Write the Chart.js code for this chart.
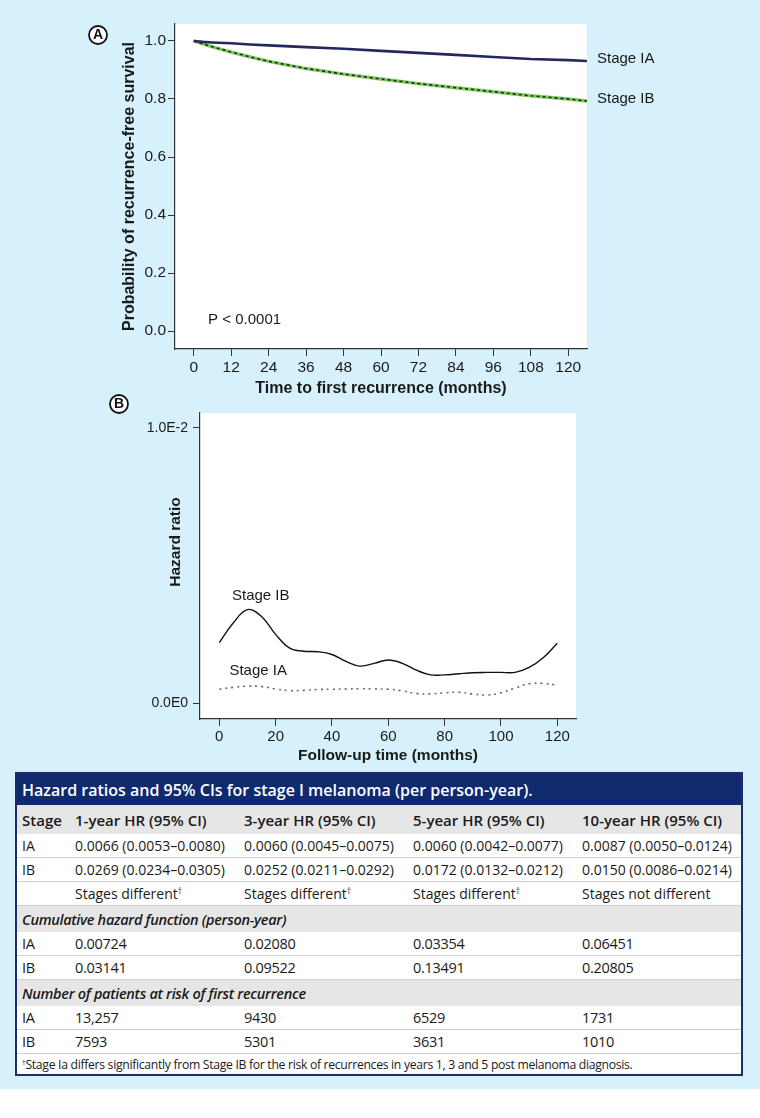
<!DOCTYPE html>
<html>
<head>
<meta charset="utf-8">
<title>Stage I melanoma recurrence</title>
<script src="https://cdn.jsdelivr.net/npm/chart.js@4.4.1/dist/chart.umd.min.js"></script>
<style>
  html, body { margin: 0; padding: 0; background: #fff; }
  #page { position: relative; width: 760px; height: 1118px; overflow: hidden; }
  #blue { position: absolute; left: 0; top: 0; width: 760px; height: 1089px; background: #d6f1fb; }
  #chartA { position: absolute; left: 0; top: 0; }
  #chartB { position: absolute; left: 0; top: 380px; }
  #tblBox { position: absolute; left: 15px; top: 772px; width: 728px; box-sizing: border-box;
            border: 2px solid #1b2d6b; background: #fff; }
  #tbl { width: 724px; border-collapse: collapse; table-layout: fixed;
         font-family: 'Open Sans', sans-serif; font-size: 14px; color: #1a1a1a; }
  #tbl td { padding: 0 0 0 5px; white-space: nowrap; vertical-align: middle; border-bottom: 1px solid #cfcfcf; }
  #tbl tr.title td { background: #0f2a6e; color: #fff; font-weight: 600; font-size: 16px; height: 31px; border: none; }
  #tbl tr.head td { background: #e6e6e6; font-weight: 600; font-size: 15px; height: 29px; border: none; }
  #tbl tr.row td { height: 23px; }
  #tbl tr.section td { background: #e6e6e6; font-style: italic; font-weight: 600; height: 26px; border: none; }
  #tbl tr.cond td { letter-spacing: -0.3px; font-size: 14.5px; }
  #tbl tr.note td { font-size: 12.2px; height: 20px; border: none; letter-spacing: -0.3px; }
  #tbl sup { font-size: 0.6em; vertical-align: 0.55em; line-height: 0; }
</style>
</head>
<body>
<div id="page">
  <div id="blue"></div>
  <canvas id="chartA" width="760" height="410"></canvas>
  <canvas id="chartB" width="760" height="390"></canvas>
  <div id="tblBox"><table id="tbl"></table></div>
</div>
<script>
// ---- panel A: recurrence-free survival ----
const monthsA = [0, 3, 6, 12, 18, 24, 36, 48, 60, 72, 84, 96, 108, 120, 126];
const survIA = [1.000, 0.997, 0.995, 0.992, 0.988, 0.985, 0.979, 0.973, 0.966, 0.959, 0.952, 0.945, 0.938, 0.934, 0.931];
const survIB = [1.000, 0.990, 0.980, 0.962, 0.945, 0.930, 0.905, 0.886, 0.869, 0.853, 0.839, 0.825, 0.811, 0.800, 0.793];
const xTicksA = [0, 12, 24, 36, 48, 60, 72, 84, 96, 108, 120];
const yTicksA = [0, 0.2, 0.4, 0.6, 0.8, 1.0];
const seriesNames = ['Stage IA', 'Stage IB'];
const pValueText = 'P < 0.0001';

// ---- panel B: smoothed hazard ----
const monthsB = [0, 5, 10, 15, 20, 25, 30, 35, 40, 45, 50, 55, 60, 65, 70, 75, 80, 85, 90, 95, 100, 105, 110, 115, 120];
const hazIB = [0.00220, 0.00292, 0.00340, 0.00315, 0.00250, 0.00200, 0.00189, 0.00187, 0.00177, 0.00152, 0.00135, 0.00145, 0.00157,
               0.00145, 0.00120, 0.00103, 0.00103, 0.00107, 0.00111, 0.00112, 0.00112, 0.00112, 0.00130, 0.00165, 0.00218];
const hazIA = [0.00051, 0.00058, 0.00062, 0.00061, 0.00052, 0.00046, 0.00047, 0.00050, 0.00051, 0.00052, 0.00053, 0.00052, 0.00051,
               0.00045, 0.00036, 0.00034, 0.00038, 0.00040, 0.00034, 0.00030, 0.00038, 0.00055, 0.00071, 0.00072, 0.00066];
const xTicksB = [0, 20, 40, 60, 80, 100, 120];
const yTicksB = [0, 0.01];
const yTickLabelsB = ['0.0E0', '1.0E-2'];

// ---- table ----
const hrHeaders = ['Stage', '1-year HR (95% CI)', '3-year HR (95% CI)', '5-year HR (95% CI)', '10-year HR (95% CI)'];
const hrIA = ['0.0066 (0.0053–0.0080)', '0.0060 (0.0045–0.0075)', '0.0060 (0.0042–0.0077)', '0.0087 (0.0050–0.0124)'];
const hrIB = ['0.0269 (0.0234–0.0305)', '0.0252 (0.0211–0.0292)', '0.0172 (0.0132–0.0212)', '0.0150 (0.0086–0.0214)'];
const hrVerdict = ['Stages different†', 'Stages different†', 'Stages different†', 'Stages not different'];
const cumIA = ['0.00724', '0.02080', '0.03354', '0.06451'];
const cumIB = ['0.03141', '0.09522', '0.13491', '0.20805'];
const riskIA = ['13,257', '9430', '6529', '1731'];
const riskIB = ['7593', '5301', '3631', '1010'];

const FONT = "'Liberation Sans', Arial, sans-serif";
Chart.defaults.font.family = FONT;
Chart.defaults.color = '#1a1a1a';

function pts(xs, ys) {
  return xs.map((x, i) => ({ x: x, y: ys[i] }));
}

function circledLetter(ctx, letter, cx, cy) {
  ctx.beginPath();
  ctx.arc(cx, cy, 9, 0, Math.PI * 2);
  ctx.fillStyle = '#fff';
  ctx.fill();
  ctx.lineWidth = 1.8;
  ctx.strokeStyle = '#111';
  ctx.stroke();
  ctx.fillStyle = '#111';
  ctx.font = 'bold 14px ' + FONT;
  ctx.textAlign = 'center';
  ctx.textBaseline = 'middle';
  ctx.fillText(letter, cx, cy + 0.5);
  ctx.textAlign = 'left';
}

// white plot box behind the curves
const plotBg = {
  id: 'plotBg',
  beforeDraw(chart) {
    const a = chart.chartArea;
    chart.ctx.save();
    chart.ctx.fillStyle = '#fff';
    chart.ctx.fillRect(a.left, a.top, a.right - a.left, a.bottom - a.top);
    chart.ctx.restore();
  }
};

const axisStyle = {
  grid: { drawOnChartArea: false, tickLength: 7, color: '#333', lineWidth: 1 },
  border: { display: true, color: '#333', width: 1.2 }
};

// panel A
new Chart(document.getElementById('chartA'), {
  type: 'line',
  data: {
    datasets: [
      { label: seriesNames[0], data: pts(monthsA, survIA), borderColor: '#23285f', borderWidth: 2.6, pointRadius: 0, order: 0 },
      { label: seriesNames[1], data: pts(monthsA, survIB), borderColor: '#1d2a1d', borderWidth: 1.6, borderDash: [3, 3], pointRadius: 0, order: 0 },
      { label: seriesNames[1] + ' band', data: pts(monthsA, survIB), borderColor: '#7ccb5c', borderWidth: 3.4, pointRadius: 0, order: 1 }
    ]
  },
  options: {
    responsive: false,
    animation: false,
    layout: { padding: { left: 0, top: 24, right: 173, bottom: 0 } },
    plugins: { legend: { display: false }, tooltip: { enabled: false } },
    scales: {
      x: {
        type: 'linear', min: -6, max: 126,
        afterBuildTicks: s => { s.ticks = xTicksA.map(v => ({ value: v })); },
        afterFit: s => { s.height = 61; },
        grid: axisStyle.grid, border: axisStyle.border,
        ticks: { font: { size: 15.5 }, padding: 2, maxRotation: 0, autoSkip: false },
        title: { display: true, text: 'Time to first recurrence (months)', font: { size: 16, weight: 'bold' },
                 padding: { top: 0, bottom: 11.4 } }
      },
      y: {
        min: -0.062, max: 1.0586,
        afterBuildTicks: s => { s.ticks = yTicksA.map(v => ({ value: v })); },
        afterFit: s => { s.width = 175; },
        grid: axisStyle.grid, border: axisStyle.border,
        ticks: { font: { size: 15.5 }, padding: 2, callback: v => v.toFixed(1) },
        title: { display: true, text: 'Probability of recurrence-free survival', font: { size: 16, weight: 'bold' },
                 padding: { top: 120.4, bottom: 0 } }
      }
    }
  },
  plugins: [plotBg, {
    id: 'labelsA',
    afterDraw(chart) {
      const { ctx, chartArea, scales } = chart;
      ctx.save();
      ctx.font = '15px ' + FONT;
      ctx.fillStyle = '#1a1a1a';
      ctx.textBaseline = 'middle';
      // curve names sit right of the box, level with each curve's end
      ctx.fillText(seriesNames[0], chartArea.right + 10, scales.y.getPixelForValue(survIA[survIA.length - 1]) - 2);
      ctx.fillText(seriesNames[1], chartArea.right + 10, scales.y.getPixelForValue(survIB[survIB.length - 1]) - 2);
      ctx.fillText(pValueText, scales.x.getPixelForValue(4.6), scales.y.getPixelForValue(0.038));
      circledLetter(ctx, 'A', 98, 35);
      ctx.restore();
    }
  }]
});

// panel B
new Chart(document.getElementById('chartB'), {
  type: 'line',
  data: {
    datasets: [
      { label: seriesNames[1], data: pts(monthsB, hazIB), borderColor: '#111', borderWidth: 1.4, pointRadius: 0, tension: 0.4 },
      { label: seriesNames[0], data: pts(monthsB, hazIA), borderColor: '#6a6a6a', borderWidth: 1.6, borderDash: [2, 4], pointRadius: 0, tension: 0.4 }
    ]
  },
  options: {
    responsive: false,
    animation: false,
    layout: { padding: { left: 0, top: 33, right: 184, bottom: 0 } },
    plugins: { legend: { display: false }, tooltip: { enabled: false } },
    scales: {
      x: {
        type: 'linear', min: -6.85, max: 126.64,
        afterBuildTicks: s => { s.ticks = xTicksB.map(v => ({ value: v })); },
        afterFit: s => { s.height = 51; },
        grid: axisStyle.grid, border: axisStyle.border,
        ticks: { font: { size: 15 }, padding: 2, maxRotation: 0, autoSkip: false },
        title: { display: true, text: 'Follow-up time (months)', font: { size: 15.5, weight: 'bold' },
                 padding: { top: 0, bottom: 4.7 } }
      },
      y: {
        min: -0.00057, max: 0.010533,
        afterBuildTicks: s => { s.ticks = yTicksB.map(v => ({ value: v })); },
        afterFit: s => { s.width = 200; },
        grid: axisStyle.grid, border: axisStyle.border,
        ticks: { font: { size: 14 }, padding: 5, callback: v => yTickLabelsB[yTicksB.indexOf(v)] }
      }
    }
  },
  plugins: [plotBg, {
    id: 'labelsB',
    afterDraw(chart) {
      const { ctx, scales } = chart;
      ctx.save();
      ctx.font = '15px ' + FONT;
      ctx.fillStyle = '#1a1a1a';
      ctx.textBaseline = 'middle';
      ctx.fillText(seriesNames[1], scales.x.getPixelForValue(4.5), scales.y.getPixelForValue(0.00389));
      ctx.fillText(seriesNames[0], scales.x.getPixelForValue(3.6), scales.y.getPixelForValue(0.00117));
      // y title sits a bit above the box centre in the original
      ctx.translate(176, 162);
      ctx.rotate(-Math.PI / 2);
      ctx.font = 'bold 15.5px ' + FONT;
      ctx.textAlign = 'center';
      ctx.fillText('Hazard ratio', 0, 0);
      ctx.restore();
      ctx.save();
      circledLetter(ctx, 'B', 119, 24);
      ctx.restore();
    }
  }]
});

// table
function dag(s) {
  return s.replace('†', '<sup>†</sup>');
}
function addRow(cls, cells) {
  const tr = document.createElement('tr');
  tr.className = cls;
  tr.innerHTML = cells.map(c => '<td>' + dag(c) + '</td>').join('');
  document.getElementById('tbl').appendChild(tr);
}
function addSpan(cls, text) {
  const tr = document.createElement('tr');
  tr.className = cls;
  tr.innerHTML = '<td colspan="5">' + text + '</td>';
  document.getElementById('tbl').appendChild(tr);
}

const tbl = document.getElementById('tbl');
tbl.innerHTML = '<colgroup><col style="width:53px"><col style="width:169px"><col style="width:169px">' +
  '<col style="width:169px"><col style="width:164px"></colgroup>';
addSpan('title', 'Hazard ratios and 95% CIs for stage I melanoma (per person-year).');
addRow('head', hrHeaders);
addRow('row', ['IA'].concat(hrIA));
addRow('row', ['IB'].concat(hrIB));
addRow('row', [''].concat(hrVerdict));
addSpan('section cond', 'Cumulative hazard function (person-year)');
addRow('row cond', ['IA'].concat(cumIA));
addRow('row cond', ['IB'].concat(cumIB));
addSpan('section cond', 'Number of patients at risk of first recurrence');
addRow('row cond', ['IA'].concat(riskIA));
addRow('row cond', ['IB'].concat(riskIB));
addSpan('note', '<sup>†</sup>Stage Ia differs significantly from Stage IB for the risk of recurrences in years 1, 3 and 5 post melanoma diagnosis.');
</script>
</body>
</html>
